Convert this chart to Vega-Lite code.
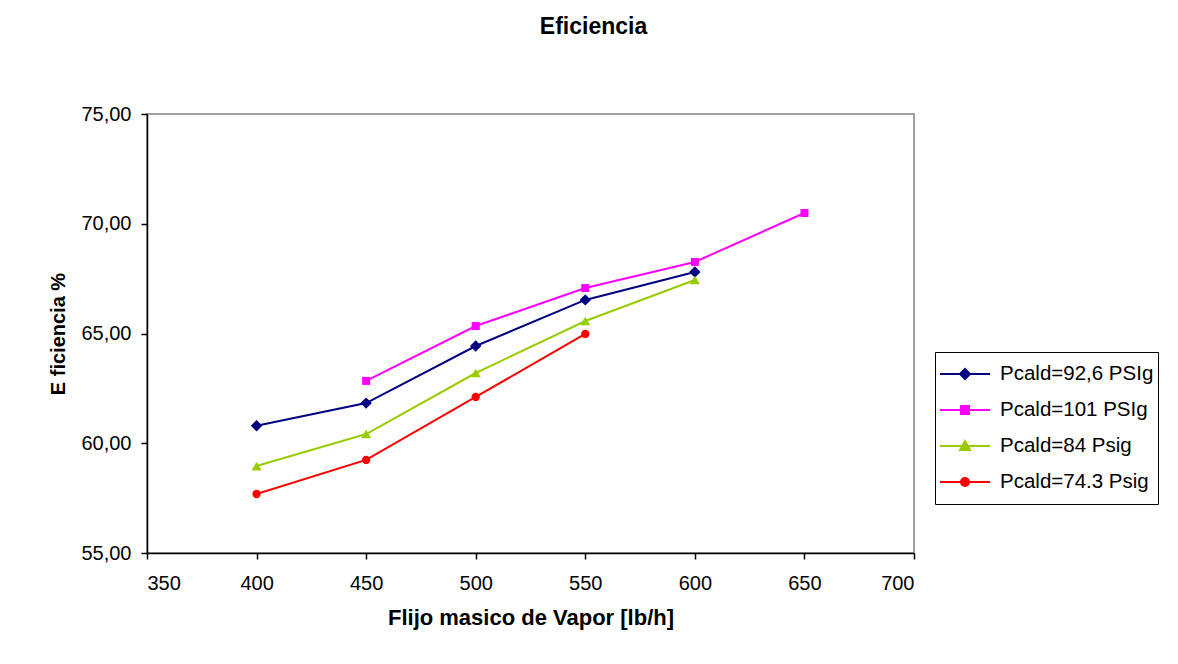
{
  "$schema": "https://vega.github.io/schema/vega-lite/v6.json",
  "autosize": "none",
  "width": 767,
  "height": 439,
  "padding": {"left": 147, "top": 114, "right": 264, "bottom": 111},
  "background": "white",
  "title": {
    "text": "Eficiencia",
    "anchor": "middle",
    "dx": 63,
    "offset": 65,
    "font": "Liberation Sans",
    "fontSize": 23,
    "fontWeight": "bold",
    "color": "black"
  },
  "data": {
    "values": [
      {"flujo": 400, "ef": 60.8, "serie": "Pcald=92,6 PSIg"},
      {"flujo": 450, "ef": 61.83, "serie": "Pcald=92,6 PSIg"},
      {"flujo": 500, "ef": 64.43, "serie": "Pcald=92,6 PSIg"},
      {"flujo": 550, "ef": 66.53, "serie": "Pcald=92,6 PSIg"},
      {"flujo": 600, "ef": 67.8, "serie": "Pcald=92,6 PSIg"},
      {"flujo": 450, "ef": 62.84, "serie": "Pcald=101 PSIg"},
      {"flujo": 500, "ef": 65.34, "serie": "Pcald=101 PSIg"},
      {"flujo": 550, "ef": 67.07, "serie": "Pcald=101 PSIg"},
      {"flujo": 600, "ef": 68.26, "serie": "Pcald=101 PSIg"},
      {"flujo": 650, "ef": 70.49, "serie": "Pcald=101 PSIg"},
      {"flujo": 400, "ef": 58.96, "serie": "Pcald=84 Psig"},
      {"flujo": 450, "ef": 60.42, "serie": "Pcald=84 Psig"},
      {"flujo": 500, "ef": 63.2, "serie": "Pcald=84 Psig"},
      {"flujo": 550, "ef": 65.57, "serie": "Pcald=84 Psig"},
      {"flujo": 600, "ef": 67.44, "serie": "Pcald=84 Psig"},
      {"flujo": 400, "ef": 57.69, "serie": "Pcald=74.3 Psig"},
      {"flujo": 450, "ef": 59.24, "serie": "Pcald=74.3 Psig"},
      {"flujo": 500, "ef": 62.11, "serie": "Pcald=74.3 Psig"},
      {"flujo": 550, "ef": 64.98, "serie": "Pcald=74.3 Psig"}
    ]
  },
  "encoding": {
    "x": {
      "field": "flujo",
      "type": "quantitative",
      "scale": {"domain": [350, 700], "nice": false, "zero": false},
      "axis": {
        "title": "Flijo masico de Vapor [lb/h]",
        "values": [350, 400, 450, 500, 550, 600, 650, 700],
        "grid": false,
        "labelPadding": 14,
        "titlePadding": 14,
        "titleFontSize": 22
      }
    },
    "y": {
      "field": "ef",
      "type": "quantitative",
      "scale": {"domain": [55, 75], "nice": false, "zero": false},
      "axis": {
        "title": "E ficiencia %",
        "values": [55, 60, 65, 70, 75],
        "labelExpr": "replace(format(datum.value, '.2f'), '.', ',')",
        "grid": false,
        "labelPadding": 10,
        "titlePadding": 12
      }
    },
    "color": {
      "field": "serie",
      "type": "nominal",
      "scale": {
        "domain": ["Pcald=92,6 PSIg", "Pcald=101 PSIg", "Pcald=84 Psig", "Pcald=74.3 Psig"],
        "range": ["#000080", "#ff00ff", "#99cc00", "#ff0000"]
      },
      "legend": {
        "title": null,
        "orient": "none",
        "legendX": 788,
        "legendY": 238,
        "padding": 4,
        "strokeColor": "black",
        "fillColor": "white",
        "symbolSize": 2500,
        "clipHeight": 36,
        "rowPadding": 0,
        "labelOffset": 9,
        "labelFont": "Liberation Sans",
        "labelFontSize": 20.5,
        "labelColor": "black",
        "labelLimit": 300,
        "encode": {
          "symbols": {
            "update": {
              "shape": {
                "signal": "datum.value === 'Pcald=92,6 PSIg' ? 'M-1,0H1M0,-0.2L0.2,0L0,0.2L-0.2,0Z' : datum.value === 'Pcald=101 PSIg' ? 'M-1,0H1M-0.16,-0.16H0.16V0.16H-0.16Z' : datum.value === 'Pcald=84 Psig' ? 'M-1,0H1M0,-0.2L0.2,0.16H-0.2Z' : 'M-1,0H1M-0.16,0A0.16,0.16,0,1,0,0.16,0A0.16,0.16,0,1,0,-0.16,0Z'"
              },
              "fill": {"scale": "color", "field": "value"},
              "stroke": {"scale": "color", "field": "value"},
              "strokeWidth": {"value": 2},
              "opacity": {"value": 1}
            }
          }
        }
      }
    }
  },
  "layer": [
    {
      "mark": {"type": "line", "strokeWidth": 2}
    },
    {
      "transform": [{"filter": "datum.serie === 'Pcald=92,6 PSIg'"}],
      "mark": {"type": "point", "filled": true, "opacity": 1, "shape": "diamond", "size": 130}
    },
    {
      "transform": [{"filter": "datum.serie === 'Pcald=101 PSIg'"}],
      "mark": {"type": "point", "filled": true, "opacity": 1, "shape": "square", "size": 64}
    },
    {
      "transform": [{"filter": "datum.serie === 'Pcald=84 Psig'"}],
      "mark": {"type": "point", "filled": true, "opacity": 1, "shape": "triangle-up", "size": 100}
    },
    {
      "transform": [{"filter": "datum.serie === 'Pcald=74.3 Psig'"}],
      "mark": {"type": "point", "filled": true, "opacity": 1, "shape": "circle", "size": 70}
    }
  ],
  "config": {
    "font": "Liberation Sans",
    "view": {"stroke": "#a0a0a0", "strokeWidth": 2},
    "axis": {
      "domainColor": "black",
      "domainWidth": 1.5,
      "tickColor": "black",
      "tickWidth": 1.5,
      "tickSize": 6,
      "labelFont": "Liberation Sans",
      "labelFontSize": 20,
      "labelColor": "black",
      "titleFont": "Liberation Sans",
      "titleFontSize": 20,
      "titleFontWeight": "bold",
      "titleColor": "black"
    }
  }
}
